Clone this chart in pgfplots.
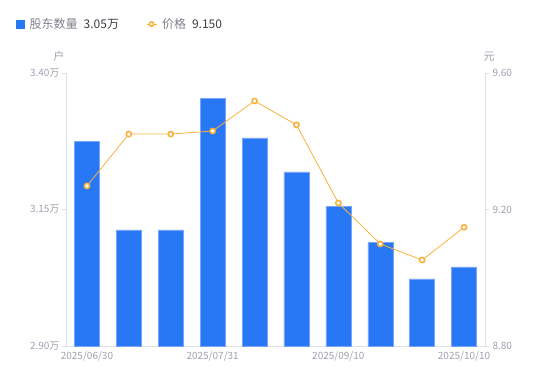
\documentclass[border=0pt]{standalone}
\usepackage{fontspec}
\setmainfont{Noto Sans CJK SC}
\usepackage{pgfplots}
\pgfplotsset{compat=1.18}
\definecolor{barblue}{RGB}{40,120,245}
\definecolor{baredge}{RGB}{120,165,250}
\definecolor{lineor}{RGB}{248,178,60}
\definecolor{axgray}{RGB}{224,224,230}
\definecolor{tickgray}{RGB}{160,160,176}
\definecolor{legtext}{RGB}{60,60,70}
\begin{document}
\begin{tikzpicture}[x=1pt,y=1pt]
\useasboundingbox (0,0) rectangle (550,381);
\begin{axis}[
  at={(66pt,35pt)}, anchor=south west,
  scale only axis, width=419pt, height=273pt,
  xmin=-0.5, xmax=9.5,
  ymin=2.90, ymax=3.40,
  axis x line*=bottom, axis y line*=left,
  axis line style={draw=axgray, line width=0.8pt},
  xtick={0,3,6,9},
  xticklabels={2025/06/30,2025/07/31,2025/09/10,2025/10/10},
  x tick style={draw=none},
  ytick={2.90,3.15,3.40},
  yticklabel={\pgfmathprintnumber[fixed,fixed zerofill,precision=2]{\tick}万},
  y tick style={draw=axgray, line width=0.8pt},
  tick align=outside, major tick length=4pt,
  ticklabel style={font=\fontsize{10}{12}\selectfont, text=tickgray},
  /pgf/number format/assume math mode=true,
  xticklabel style={yshift=2pt},
  yticklabel style={xshift=1pt},
  legend style={at={(-0.119,1.179)}, anchor=west, draw=none, fill=none,
    font=\fontsize{12}{14}\selectfont, text=legtext, legend columns=2,
    /tikz/every odd column/.append style={column sep=3pt},
    /tikz/every even column/.append style={column sep=25pt},
    inner sep=0pt},
  legend cell align=left,
  clip=false,
]
\addlegendimage{legend image code/.code={\fill[barblue] (0pt,-4pt) rectangle (8pt,4pt);}}
\addlegendentry{{\color{tickgray!80!black}股东数量}\hspace{6pt}3.05万}
\addlegendimage{legend image code/.code={
  \draw[lineor, line width=1pt] (0pt,0pt) -- (10pt,0pt);
  \draw[lineor, fill=white, line width=1.6pt] (5pt,0pt) circle (2.2pt);}}
\addlegendentry{{\color{tickgray!80!black}价格}\hspace{6pt}9.150}
\addplot[ybar, bar width=25pt, fill=barblue, draw=baredge, line width=0.5pt, bar shift=0pt, forget plot]
  coordinates {(0,3.275) (1,3.1125) (2,3.1125) (3,3.354) (4,3.281) (5,3.219) (6,3.156) (7,3.090) (8,3.023) (9,3.045)};
\node[font=\fontsize{11}{13}\selectfont, text=tickgray] at (axis description cs:-0.017,1.06) {户};
\end{axis}
\begin{axis}[
  at={(66pt,35pt)}, anchor=south west,
  scale only axis, width=419pt, height=273pt,
  xmin=-0.5, xmax=9.5,
  ymin=8.80, ymax=9.60,
  hide x axis,
  axis y line*=right,
  axis line style={draw=axgray, line width=0.8pt},
  ytick={8.80,9.20,9.60},
  yticklabel={\pgfmathprintnumber[fixed,fixed zerofill,precision=2]{\tick}},
  y tick style={draw=axgray, line width=0.8pt},
  tick align=outside, major tick length=4pt,
  ticklabel style={font=\fontsize{10}{12}\selectfont, text=tickgray},
  /pgf/number format/assume math mode=true,
  clip=false,
]
\addplot[color=lineor, line width=0.8pt, mark=*, mark size=2.6pt, mark options={draw=lineor, fill=white, line width=1.6pt}]
  coordinates {(0,9.269) (1,9.421) (2,9.421) (3,9.430) (4,9.518) (5,9.448) (6,9.219) (7,9.099) (8,9.052) (9,9.148)};
\node[font=\fontsize{11}{13}\selectfont, text=tickgray] at (axis description cs:1.01,1.06) {元};
\end{axis}
\end{tikzpicture}
\end{document}
